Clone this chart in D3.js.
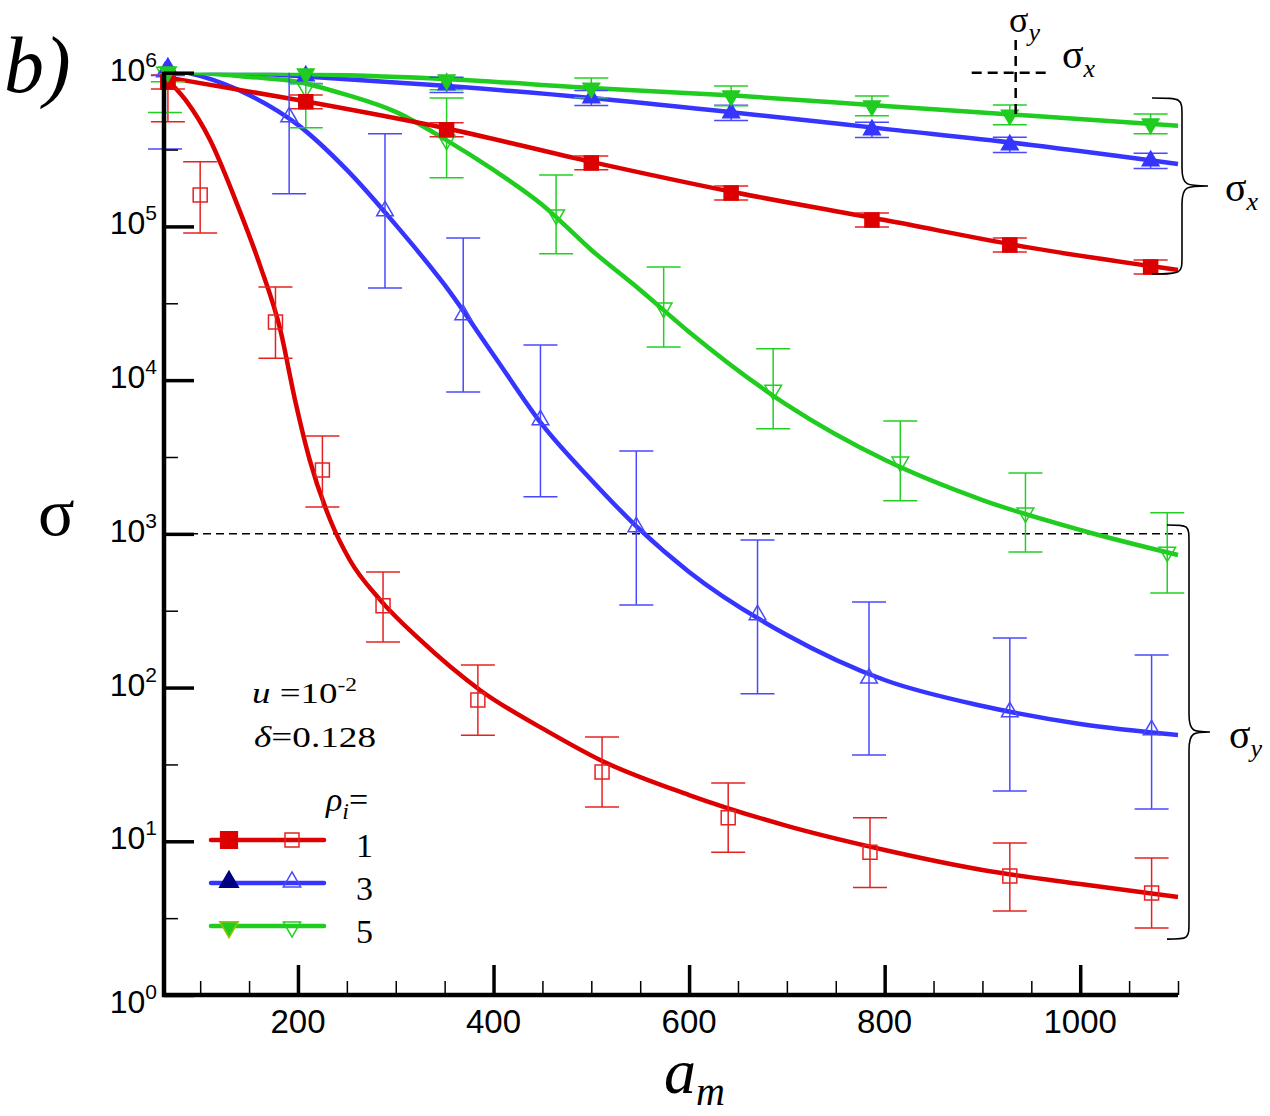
<!DOCTYPE html>
<html>
<head>
<meta charset="utf-8">
<script src="https://cdn.jsdelivr.net/npm/d3@7"></script>
<style>
html,body{margin:0;padding:0;background:#fff;}
</style>
</head>
<body>
<div id="chart"></div>
<script>
(function(){

// ---- data ----
// sigma_x : filled markers, same a_m for every rho
const sxX = [67, 208, 352, 500, 643, 787, 928, 1072];
const sxRho1 = [8.71e5, 6.46e5, 4.25e5, 2.59e5, 1.65e5, 1.10e5, 7.58e4, 5.45e4];
const sxRho3 = [1.075e6, 9.53e5, 8.33e5, 6.85e5, 5.475e5, 4.25e5, 3.39e5, 2.67e5];
const sxRho5 = [1.012e6, 9.82e5, 8.98e5, 7.96e5, 7.07e5, 6.08e5, 5.31e5, 4.645e5];
const sxErrRho1 = [1.11, 1.11, 1.11, 1.11, 1.11, 1.11, 1.11, 1.11];
const sxErrRho3 = [1.12, 1.12, 1.12, 1.12, 1.12, 1.12, 1.12, 1.12];
const sxErrRho5 = [1.16, 1.16, 1.16, 1.16, 1.16, 1.16, 1.16, 1.16];

// sigma_x fitted lines
const sxLineX = [63, 200, 350, 500, 650, 800, 950, 1100];
const sxLineRho1 = [9.39e5, 6.65e5, 4.37e5, 2.63e5, 1.65e5, 1.10e5, 7.25e4, 5.21e4];
const sxLineRho3 = [1.075e6, 9.53e5, 8.21e5, 6.85e5, 5.475e5, 4.31e5, 3.39e5, 2.55e5];
const sxLineRho5 = [1.012e6, 9.82e5, 9.11e5, 7.96e5, 7.07e5, 6.08e5, 5.24e5, 4.51e5];

// sigma_y : open markers with error bars
const syXRho1 = [67, 100, 177, 225, 287, 384, 511, 640, 785, 928, 1073];
const syRho1 = [8.7e5, 1.60e5, 2.39e4, 2604, 340, 83, 28.2, 14.2, 8.5, 5.95, 4.61];
const syLoRho1 = [4.79e5, 9.07e4, 1.39e4, 1497, 198, 49, 16.7, 8.5, 5.0, 3.52, 2.73];
const syHiRho1 = [1.58e6, 2.63e5, 4.04e4, 4335, 565, 140, 47.7, 23.9, 14.2, 9.75, 7.79];

const syXRho3 = [64, 191, 289, 369, 448, 546, 670, 784, 928, 1073];
const syRho3 = [1.01e6, 5.15e5, 1.26e5, 2.66e4, 5510, 1110, 297, 115, 69.4, 53];
const syLoRho3 = [3.19e5, 1.63e5, 3.98e4, 8380, 1740, 345, 91, 36.4, 21.2, 16.2];
const syHiRho3 = [3.2e6, 1.58e6, 4.0e5, 8.42e4, 1.69e4, 3460, 912, 360, 210, 163];

const syXRho5 = [64, 208, 352, 464, 574, 686, 816, 944, 1089];
const syRho5 = [1.01e6, 7.96e5, 3.65e5, 1.19e5, 2.95e4, 8630, 2940, 1370, 762];
const syLoRho5 = [5.5e5, 4.38e5, 2.07e5, 6.63e4, 1.64e4, 4820, 1640, 762, 412];
const syHiRho5 = [1.85e6, 1.45e6, 6.85e5, 2.16e5, 5.45e4, 1.6e4, 5430, 2490, 1370];

// sigma_y fitted curves
const syLineXRho1 = [63, 85, 110, 136, 161, 182, 197, 212, 233, 253, 284, 325, 386, 458, 509, 600, 700, 800, 900, 1000, 1100];
const syLineRho1 = [9.39e5, 6.65e5, 3.66e5, 1.49e5, 5.62e4, 2.12e4, 7430, 3030, 1231, 676, 372, 204, 96.5, 50.7, 33.8, 20.0, 12.6, 8.78, 6.51, 5.27, 4.34];
const syLineX = [63, 100, 150, 200, 250, 300, 350, 400, 450, 500, 550, 600, 700, 800, 900, 1000, 1100];
const syLineRho3 = [1.075e6, 9.53e5, 7.17e5, 4.575e5, 2.33e5, 1.023e5, 4.16e4, 1.459e4, 5110, 2243, 1060, 565, 220, 112, 75.9, 58.0, 49.2];
const syLineRho5 = [1.012e6, 9.97e5, 9.39e5, 8.71e5, 7.17e5, 5.56e5, 3.70e5, 2.33e5, 1.38e5, 7.03e4, 3.86e4, 2.06e4, 6900, 3030, 1660, 1060, 729];

// axes ticks
const xMajor = [200, 400, 600, 800, 1000];
const xMinor = [100, 150, 250, 300, 350, 450, 500, 550, 650, 700, 750, 850, 900, 950, 1050, 1100];
const yExp = [0, 1, 2, 3, 4, 5, 6];
const yMinor = [3.162, 31.62, 316.2, 3162, 31620, 316200];

const rhoLabels = ["1", "3", "5"];

// ---- layout ----
const width = 1270, height = 1116;
const left = 164, right = 1178, top = 72.7, bottom = 995;

const cRed = "#dd0000", cBlue = "#3535ff", cGreen = "#1fcc1f";
const sans = "'Liberation Sans', Arial, Helvetica, sans-serif";
const serif = "'Liberation Serif', 'Times New Roman', serif";

const svg = d3.select("#chart").append("svg")
  .attr("width", width).attr("height", height)
  .style("display", "block");

const x = d3.scaleLinear().domain([63, 1100]).range([left, right]);
const y = d3.scaleLog().domain([1, 1e6]).range([bottom, top]);

svg.append("clipPath").attr("id", "plotclip")
  .append("rect").attr("x", left - 20).attr("y", top).attr("width", right - left + 40).attr("height", bottom - top);

// reference dashed line at 10^3
svg.append("line")
  .attr("x1", x(63)).attr("x2", x(1100) + 4)
  .attr("y1", y(1000)).attr("y2", y(1000))
  .attr("stroke", "#000").attr("stroke-width", 1.5)
  .attr("stroke-dasharray", "8,5");

const lineGen = d3.line().x(d => x(d[0])).y(d => y(d[1])).curve(d3.curveMonotoneX);

const plot = svg.append("g").attr("clip-path", "url(#plotclip)");

function drawLine(xs, ys, color){
  plot.append("path")
    .datum(xs.map((v, i) => [v, ys[i]]))
    .attr("fill", "none").attr("stroke", color)
    .attr("stroke-width", 4.5).attr("stroke-linejoin", "round")
    .attr("d", lineGen);
}

drawLine(syLineXRho1, syLineRho1, cRed);
drawLine(syLineX, syLineRho3, cBlue);
drawLine(syLineX, syLineRho5, cGreen);
drawLine(sxLineX, sxLineRho1, cRed);
drawLine(sxLineX, sxLineRho3, cBlue);
drawLine(sxLineX, sxLineRho5, cGreen);

function drawErr(xs, lo, hi, color, cap){
  const g = plot.append("g").attr("stroke", color).attr("stroke-width", 1.5).attr("fill", "none");
  xs.forEach((v, i) => {
    const px = x(v);
    g.append("line").attr("x1", px).attr("x2", px).attr("y1", y(lo[i])).attr("y2", y(hi[i]));
    g.append("line").attr("x1", px - cap).attr("x2", px + cap).attr("y1", y(lo[i])).attr("y2", y(lo[i]));
    g.append("line").attr("x1", px - cap).attr("x2", px + cap).attr("y1", y(hi[i])).attr("y2", y(hi[i]));
  });
}

drawErr(syXRho1, syLoRho1, syHiRho1, "#e52222", 17);
drawErr(syXRho3, syLoRho3, syHiRho3, "#4848ff", 17);
drawErr(syXRho5, syLoRho5, syHiRho5, "#22d022", 17);
drawErr(sxX, sxRho1.map((v, i) => v / sxErrRho1[i]), sxRho1.map((v, i) => v * sxErrRho1[i]), "#e52222", 17);
drawErr(sxX, sxRho3.map((v, i) => v / sxErrRho3[i]), sxRho3.map((v, i) => v * sxErrRho3[i]), "#4848ff", 17);
drawErr(sxX, sxRho5.map((v, i) => v / sxErrRho5[i]), sxRho5.map((v, i) => v * sxErrRho5[i]), "#22d022", 17);

const symSquare = d3.symbol().type(d3.symbolSquare);
const symTri = d3.symbol().type(d3.symbolTriangle);

function marker(g, type, size, px, py, fill, stroke, rot){
  const gen = type === "sq" ? symSquare.size(size) : symTri.size(size);
  g.append("path")
    .attr("d", gen())
    .attr("transform", `translate(${px},${py})` + (rot ? " rotate(180)" : ""))
    .attr("fill", fill).attr("stroke", stroke).attr("stroke-width", 1.5);
}

const mk = svg.append("g");
syXRho1.forEach((v, i) => marker(mk, "sq", 196, x(v), y(syRho1[i]), "none", "#e52222"));
syXRho3.forEach((v, i) => marker(mk, "tri", 120, x(v), y(syRho3[i]), "none", "#4848ff"));
syXRho5.forEach((v, i) => marker(mk, "tri", 120, x(v), y(syRho5[i]), "none", "#22d022", true));
sxX.forEach((v, i) => marker(mk, "sq", 196, x(v), y(sxRho1[i]), cRed, cRed));
sxX.forEach((v, i) => marker(mk, "tri", 120, x(v), y(sxRho3[i]), cBlue, cBlue));
sxX.forEach((v, i) => marker(mk, "tri", 120, x(v), y(sxRho5[i]), cGreen, cGreen, true));

// ---- axes ----
const ax = svg.append("g");
ax.append("g").attr("transform", `translate(0,${bottom})`)
  .call(d3.axisBottom(x).tickValues(xMinor).tickSize(-14).tickFormat(""))
  .call(g => g.select(".domain").remove())
  .selectAll("line").attr("stroke", "#000").attr("stroke-width", 1.5);
ax.append("g").attr("transform", `translate(0,${bottom})`)
  .call(d3.axisBottom(x).tickValues(xMajor).tickSize(-30).tickFormat(""))
  .call(g => g.select(".domain").remove())
  .selectAll("line").attr("stroke", "#000").attr("stroke-width", 3.5);
ax.append("g").attr("transform", `translate(${left},0)`)
  .call(d3.axisLeft(y).tickValues(yMinor).tickSize(-14).tickFormat(""))
  .call(g => g.select(".domain").remove())
  .selectAll("line").attr("stroke", "#000").attr("stroke-width", 1.5);
ax.append("g").attr("transform", `translate(${left},0)`)
  .call(d3.axisLeft(y).tickValues(yExp.map(e => Math.pow(10, e))).tickSize(-30).tickFormat(""))
  .call(g => g.select(".domain").remove())
  .selectAll("line").attr("stroke", "#000").attr("stroke-width", 3.5);

// axis lines
svg.append("path")
  .attr("d", `M${left},${top - 1}V${bottom}H${right}`)
  .attr("fill", "none").attr("stroke", "#000").attr("stroke-width", 4.5)
  .attr("stroke-linejoin", "miter");

// tick labels
xMajor.forEach(v => {
  svg.append("text").attr("x", x(v)).attr("y", bottom + 38)
    .attr("text-anchor", "middle").attr("font-family", sans).attr("font-size", 33)
    .text(v);
});
yExp.forEach(e => {
  const t = svg.append("text").attr("x", 157).attr("y", y(Math.pow(10, e)) + (e === 0 ? 18 : 8))
    .attr("text-anchor", "end").attr("font-family", sans).attr("font-size", 32);
  t.append("tspan").text("10");
  t.append("tspan").attr("dy", -14).attr("font-size", 21).text(e);
});

// axis titles
const xt = svg.append("text").attr("x", 664).attr("y", 1093)
  .attr("font-family", serif).attr("font-style", "italic").attr("font-size", 64);
xt.append("tspan").text("a");
xt.append("tspan").attr("dy", 12).attr("font-size", 40).text("m");

svg.append("text").attr("x", 38).attr("y", 535)
  .attr("font-family", serif).attr("font-size", 68).text("σ");

svg.append("text").attr("x", 4).attr("y", 92)
  .attr("font-family", serif).attr("font-style", "italic").attr("font-size", 80).text("b)");

// ---- annotations ----
const tl = svg.append("g").attr("font-family", serif).attr("font-size", 30);
const t1 = tl.append("text").attr("x", 252).attr("y", 703)
  .attr("textLength", 105).attr("lengthAdjust", "spacingAndGlyphs");
t1.append("tspan").attr("font-style", "italic").text("u");
t1.append("tspan").text(" =10");
t1.append("tspan").attr("dy", -12).attr("font-size", 19).text("-2");
const t2 = tl.append("text").attr("x", 254).attr("y", 747)
  .attr("textLength", 122).attr("lengthAdjust", "spacingAndGlyphs");
t2.append("tspan").attr("font-style", "italic").text("δ");
t2.append("tspan").text("=0.128");

const t3 = svg.append("text").attr("x", 326).attr("y", 811)
  .attr("font-family", serif).attr("font-size", 34);
t3.append("tspan").attr("font-style", "italic").text("ρ");
t3.append("tspan").attr("dy", 8).attr("font-size", 24).attr("font-style", "italic").text("i");
t3.append("tspan").attr("dy", -8).text("=");

// legend
const legColors = [cRed, cBlue, cGreen];
const legErr = ["#e52222", "#4848ff", "#22d022"];
rhoLabels.forEach((lab, i) => {
  const ly = 840 + i * 43;
  svg.append("line").attr("x1", 211).attr("x2", 324).attr("y1", ly).attr("y2", ly)
    .attr("stroke", legColors[i]).attr("stroke-width", 4.5).attr("stroke-linecap", "round");
  if (i === 0){
    marker(svg, "sq", 280, 229, ly, cRed, cRed);
    marker(svg, "sq", 196, 292, ly, "none", legErr[i]);
  } else if (i === 1){
    marker(svg, "tri", 150, 229, ly - 1, "#000080", "#000080");
    marker(svg, "tri", 130, 292, ly - 1, "none", legErr[i]);
  } else {
    marker(svg, "tri", 150, 229, ly + 1, cGreen, "#9fc200", true);
    marker(svg, "tri", 130, 292, ly + 1, "none", legErr[i], true);
  }
  svg.append("text").attr("x", 356).attr("y", ly + 17)
    .attr("font-family", serif).attr("font-size", 34).text(lab);
});

// crosshair
const ch = svg.append("g").attr("stroke", "#000").attr("stroke-width", 2.5).attr("stroke-dasharray", "10,6");
ch.append("line").attr("x1", x(934)).attr("x2", x(934)).attr("y1", y(1.63e6)).attr("y2", y(5.15e5));
ch.append("line").attr("x1", x(889)).attr("x2", x(967)).attr("y1", y(1e6)).attr("y2", y(1e6));

function subLabel(px, py, sub, fs){
  const t = svg.append("text").attr("x", px).attr("y", py)
    .attr("font-family", serif).attr("font-size", fs || 40);
  t.append("tspan").text("σ");
  t.append("tspan").attr("dy", 9).attr("font-size", 26).attr("font-style", "italic").text(sub);
}
subLabel(1009, 32, "y", 36);
subLabel(1062, 68, "x");
subLabel(1225, 201, "x");
subLabel(1229, 748, "y");

// braces
function brace(x0, y0, y1, w, tip){
  const ym = (y0 + y1) / 2;
  const r = 18;
  const xv = x0 + w;
  return `M${x0},${y0} C${xv},${y0} ${xv},${y0} ${xv},${y0 + r}` +
    ` L${xv},${ym - r} C${xv},${ym} ${xv + 5},${ym} ${xv + tip},${ym}` +
    ` C${xv + 5},${ym} ${xv},${ym} ${xv},${ym + r}` +
    ` L${xv},${y1 - r} C${xv},${y1} ${xv},${y1} ${x0},${y1}`;
}
svg.append("path").attr("d", brace(1152, y(6.85e5), y(4.91e4), 30, 26))
  .attr("fill", "none").attr("stroke", "#000").attr("stroke-width", 1.6);
svg.append("path").attr("d", brace(1167, y(1143), y(2.31), 22, 21))
  .attr("fill", "none").attr("stroke", "#000").attr("stroke-width", 1.6);

})();
</script>
</body>
</html>
